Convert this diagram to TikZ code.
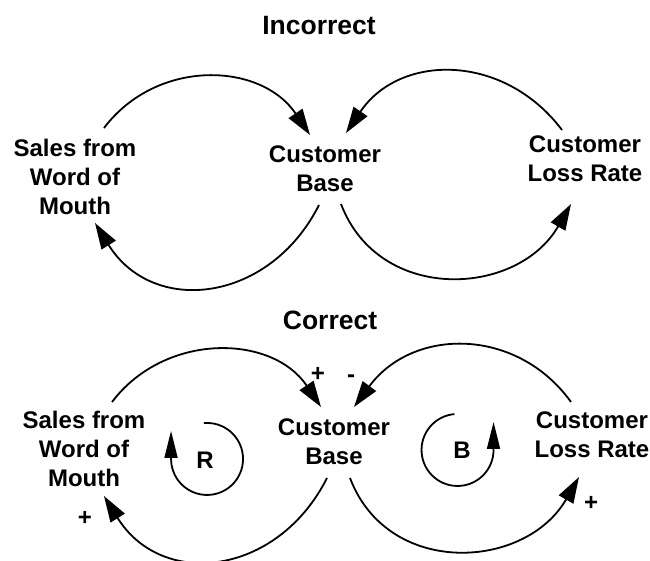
\documentclass[tikz,border=0pt]{standalone}
\usepackage{fontspec}
\setmainfont{Liberation Sans}
\usetikzlibrary{arrows.meta,calc}
\begin{document}
\begin{tikzpicture}[x=1pt,y=-1pt,
  lbl/.style={font=\bfseries\fontsize{24}{29}\selectfont, align=center, inner sep=0pt},
  ttl/.style={font=\bfseries\fontsize{26.5}{30}\selectfont, inner sep=0pt},
  sgn/.style={font=\bfseries\fontsize{24}{29}\selectfont, inner sep=0pt},
  link/.style={line width=1.8pt, -{Triangle[length=26pt,width=16.5pt]}},
  loopar/.style={line width=1.8pt, -{Triangle[length=27pt,width=13pt]}}]
\path[use as bounding box, fill=white] (0,0) rectangle (650,561);

% ---- Incorrect ----
\node[ttl] (t1) at (319,26) {Incorrect};
\node[lbl] (s1) at (75,177) {Sales from\\Word of\\Mouth};
\node[lbl] (c1) at (325,169) {Customer\\Base};
\node[lbl] (l1) at (585,159) {Customer\\Loss Rate};

\draw[link] ($(s1.center)+(29,-49)$) .. controls +(53,-70) and +(-49,-73) .. ($(c1.center)+(-15,-34)$);
\draw[link] ($(l1.center)+(-23,-29)$) .. controls +(-58,-77) and +(54,-80) .. ($(c1.center)+(21,-36)$);
\draw[link] ($(c1.center)+(-6,36)$) .. controls +(-49.5,98) and +(58,93.5) .. ($(s1.center)+(20,46)$);
\draw[link] ($(c1.center)+(16,35)$) .. controls +(38,100) and +(-53.5,93) .. ($(l1.center)+(-14,45)$);

% ---- Correct ----
\node[ttl] (t2) at (330,320) {Correct};
\node[lbl] (s2) at (84,449) {Sales from\\Word of\\Mouth};
\node[lbl] (c2) at (334,441.5) {Customer\\Base};
\node[lbl] (l2) at (592,434.5) {Customer\\Loss Rate};
\node[sgn] (r) at (205,460) {R};
\node[sgn] (b) at (462,450) {B};
\node[sgn] (p1) at (318,374) {+};
\node[sgn] (m1) at (351,379) {-};
\node[sgn] (p2) at (85,518) {+};
\node[sgn] (p3) at (591,503) {+};

\draw[link] ($(s2.center)+(28,-47)$) .. controls +(53,-70) and +(-49,-73) .. ($(c2.center)+(-13,-34.5)$);
\draw[link] ($(l2.center)+(-21,-32.5)$) .. controls +(-54,-75) and +(59,-80) .. ($(c2.center)+(20,-34.5)$);
\draw[link] ($(c2.center)+(-7,36.5)$) .. controls +(-49.5,98) and +(58,93.5) .. ($(s2.center)+(20,47)$);
\draw[link] ($(c2.center)+(16,36.5)$) .. controls +(38,100) and +(-53.5,93) .. ($(l2.center)+(-13,42.5)$);

\draw[loopar] ($(r.center)+(-1.1,-36.9)$) arc[start angle=-95, end angle=180, radius=36] -- ++(0,-28);
\draw[loopar] ($(b.center)+(-7.6,-35.9)$) arc[start angle=265, end angle=0, radius=36] -- ++(0,-28);
\end{tikzpicture}
\end{document}
